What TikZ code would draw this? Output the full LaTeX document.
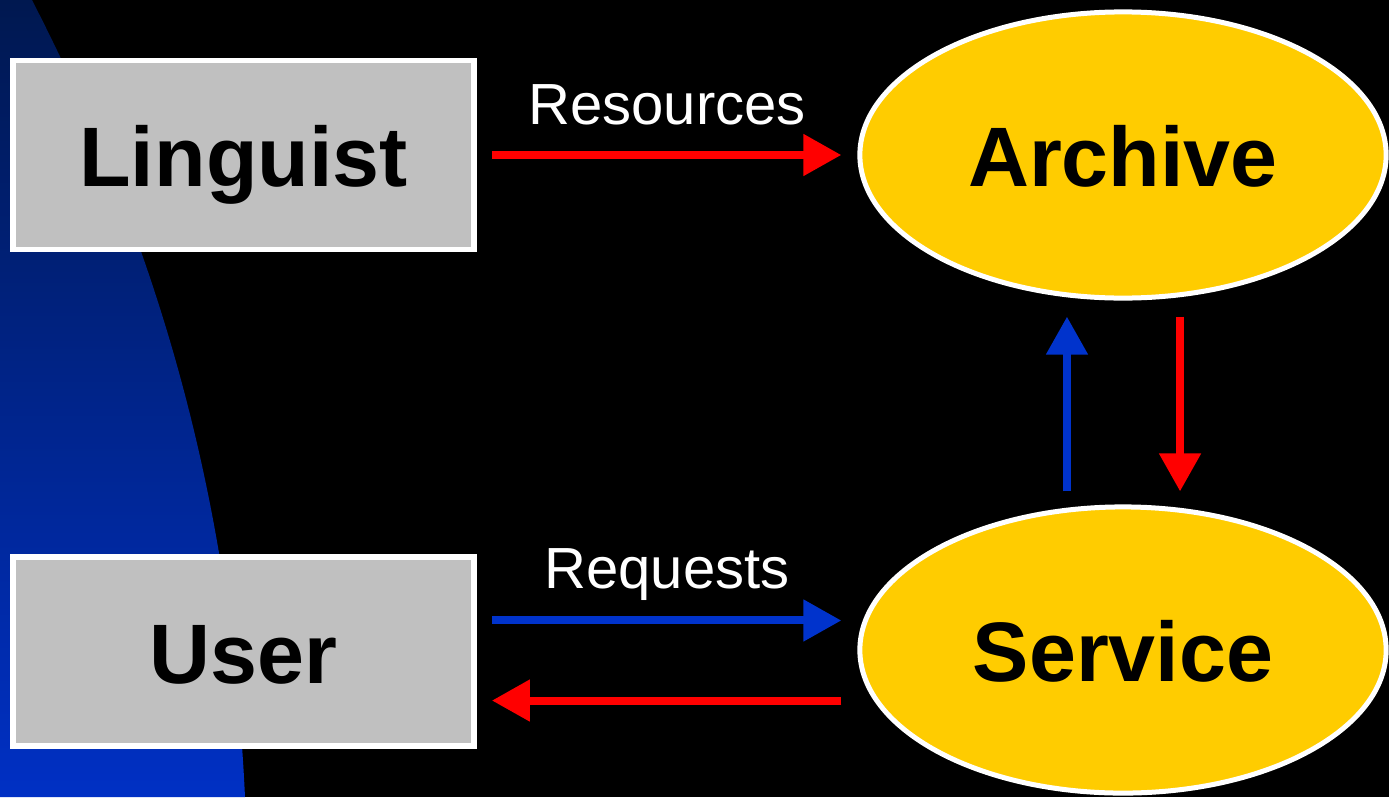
\documentclass[tikz,border=0pt]{standalone}
\usepackage{fontspec}
\setmainfont{Liberation Sans}
\usepackage{tikz}
\usetikzlibrary{arrows.meta,positioning,shapes.geometric}
\definecolor{panel}{HTML}{C0C0C0}
\definecolor{gold}{HTML}{FFCC00}
\definecolor{flowred}{HTML}{FF0000}
\definecolor{flowblue}{HTML}{0033CC}
\definecolor{navy}{HTML}{001850}
\definecolor{deepblue}{HTML}{0030C4}

\begin{document}
\begin{tikzpicture}[x=0.01cm,y=-0.01cm,
box/.style={draw=white,line width=0.055cm,fill=panel,inner sep=0pt,
  minimum width=4.61cm,minimum height=1.89cm,text height=18pt,text depth=0pt,
  font=\fontsize{24}{28}\selectfont\bfseries},
store/.style={ellipse,draw=white,line width=0.05cm,fill=gold,inner sep=0pt,
  minimum width=5.26cm,minimum height=2.86cm,text height=18pt,text depth=0pt,
  font=\fontsize{24}{28}\selectfont\bfseries},
arr/.style={line width=0.08cm,-{Triangle[length=0.38cm,width=0.40cm]}},
lbl/.style={text=white,inner sep=0pt,anchor=base,font=\fontsize{16.5}{20}\selectfont}]
% backdrop
\fill[black] (0,0) rectangle (1389,797);
\shade[top color=navy,bottom color=deepblue]
  (0,0) -- (32,0) .. controls (150,230) and (230,480) .. (245,797) -- (0,797) -- cycle;
% actors and stores
\node[box] (Linguist) at (243.5,155) {Linguist};
\node[box] (User) at (243.5,651.5) {User};
\node[store] (Archive) at (1123,155) {Archive};
\node[store] (Service) at (1123,650) {Service};
% flows
\draw[arr,flowred,shorten <=0.15cm,shorten >=0.16cm] (Linguist.east) -- (Archive.west)
  node[lbl,midway,yshift=0.30cm] {Resources};
\draw[arr,flowblue,shorten <=0.15cm,shorten >=0.16cm]
  ([yshift=0.31cm]User.east) -- ([yshift=0.31cm]User.east -| Service.west)
  node[lbl,midway,yshift=0.32cm] {Requests};
\draw[arr,flowred,shorten <=0.16cm,shorten >=0.15cm]
  ([yshift=-0.49cm]User.east -| Service.west) -- ([yshift=-0.49cm]User.east);
\draw[arr,flowblue,shorten <=0.13cm,shorten >=0.16cm]
  ([xshift=-0.56cm]Service.north) -- ([xshift=-0.56cm]Archive.south);
\draw[arr,flowred,shorten <=0.16cm,shorten >=0.13cm]
  ([xshift=0.57cm]Archive.south) -- ([xshift=0.57cm]Service.north);
\end{tikzpicture}
\end{document}
